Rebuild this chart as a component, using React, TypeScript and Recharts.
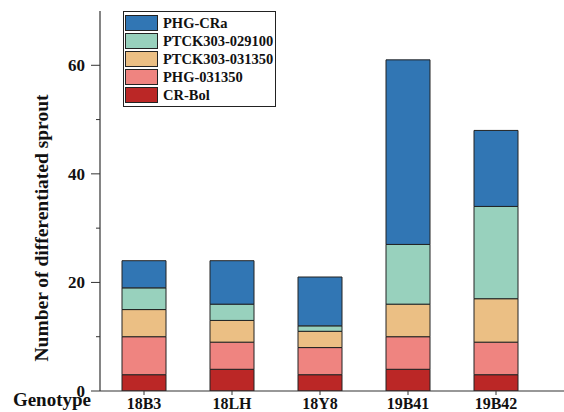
import React from 'react';
import { BarChart, Bar, XAxis, YAxis, Legend, Label } from 'recharts';

const genotypes = ['18B3', '18LH', '18Y8', '19B41', '19B42'];
const crBol = [3, 4, 3, 4, 3];
const phg031350 = [7, 5, 5, 6, 6];
const ptck031350 = [5, 4, 3, 6, 8];
const ptck029100 = [4, 3, 1, 11, 17];
const phgCRa = [5, 8, 9, 34, 14];

const seriesKeys = ['crBol', 'phg031350', 'ptck031350', 'ptck029100', 'phgCRa'];
const seriesNames = ['CR-Bol', 'PHG-031350', 'PTCK303-031350', 'PTCK303-029100', 'PHG-CRa'];
const seriesColors = ['#bb2726', '#ef8480', '#ebbf84', '#98d1bd', '#3176b4'];

const yTicks = [0, 10, 20, 30, 40, 50, 60];
const yMajorTicks = [0, 20, 40, 60];

const data = genotypes.map((g, i) => ({
  genotype: g,
  crBol: crBol[i],
  phg031350: phg031350[i],
  ptck031350: ptck031350[i],
  ptck029100: ptck029100[i],
  phgCRa: phgCRa[i],
}));

const FONT = '"Liberation Serif", "Times New Roman", serif';
const AXIS = '#333';

const YTick = (props: any) => {
  const { x, y, payload } = props;
  const major = yMajorTicks.includes(payload.value);
  return (
    <g>
      <line x1={x - (major ? 9 : 4)} x2={x} y1={y} y2={y} stroke={AXIS} strokeWidth={1} />
      {major && (
        <text
          x={x - 15}
          y={y}
          dy="0.35em"
          textAnchor="end"
          fontFamily={FONT}
          fontWeight="bold"
          fontSize={17}
          fill="#111"
        >
          {payload.value}
        </text>
      )}
    </g>
  );
};

const renderLegend = () => {
  const order = [4, 3, 2, 1, 0];
  return (
    <div
      style={{
        border: '1px solid #222',
        background: '#fff',
        padding: '2px 4px 2px 1px',
        fontFamily: FONT,
        fontWeight: 'bold',
        fontSize: 14.5,
        color: '#111',
        width: 146,
        boxSizing: 'content-box',
      }}
    >
      {order.map((i) => (
        <div key={i} style={{ display: 'flex', alignItems: 'center', height: 18, lineHeight: '18px' }}>
          <span
            style={{
              display: 'inline-block',
              width: 31,
              height: 14,
              background: seriesColors[i],
              border: '1px solid #222',
              marginRight: 5,
              flexShrink: 0,
            }}
          />
          <span style={{ whiteSpace: 'nowrap' }}>{seriesNames[i]}</span>
        </div>
      ))}
    </div>
  );
};

export default function App() {
  return (
    <div style={{ position: 'absolute', left: 0, top: 0, background: '#fff' }}>
      <BarChart
        width={564}
        height={412}
        data={data}
        margin={{ top: 11, right: 0, left: 0, bottom: 0 }}
        barCategoryGap="25%"
      >
        <XAxis
          dataKey="genotype"
          height={21}
          padding={{ left: 0, right: 24 }}
          interval={0}
          axisLine={{ stroke: AXIS, strokeWidth: 1.2 }}
          tickLine={{ stroke: AXIS }}
          tickSize={4}
          tickMargin={3}
          tick={{ fontFamily: FONT, fontWeight: 'bold', fontSize: 16, fill: '#111' }}
        >
          <Label
            value="Genotype"
            position="left"
            offset={9}
            dy={-2}
            style={{ fontFamily: FONT, fontWeight: 'bold', fontSize: 19, fill: '#111' }}
          />
        </XAxis>
        <YAxis
          width={100}
          domain={[0, 70]}
          ticks={yTicks}
          interval={0}
          allowDataOverflow
          axisLine={{ stroke: AXIS, strokeWidth: 1.2 }}
          tickLine={false}
          tickSize={0}
          tickMargin={0}
          tick={<YTick />}
          label={{
            content: () => (
              <text
                transform="translate(48,228) rotate(-90)"
                textAnchor="middle"
                fontFamily={FONT}
                fontWeight="bold"
                fontSize={19.5}
                fill="#111"
              >
                Number of differentiated sprout
              </text>
            ),
          }}
        />
        <Legend
          layout="vertical"
          align="center"
          verticalAlign="middle"
          content={renderLegend}
          wrapperStyle={{ position: 'absolute', left: 123, top: 11, width: 'auto', height: 'auto' }}
        />
        {seriesKeys.map((k, i) => (
          <Bar
            key={k}
            dataKey={k}
            name={seriesNames[i]}
            stackId="a"
            fill={seriesColors[i]}
            stroke="#222"
            strokeWidth={1}
            isAnimationActive={false}
          />
        ))}
      </BarChart>
    </div>
  );
}
